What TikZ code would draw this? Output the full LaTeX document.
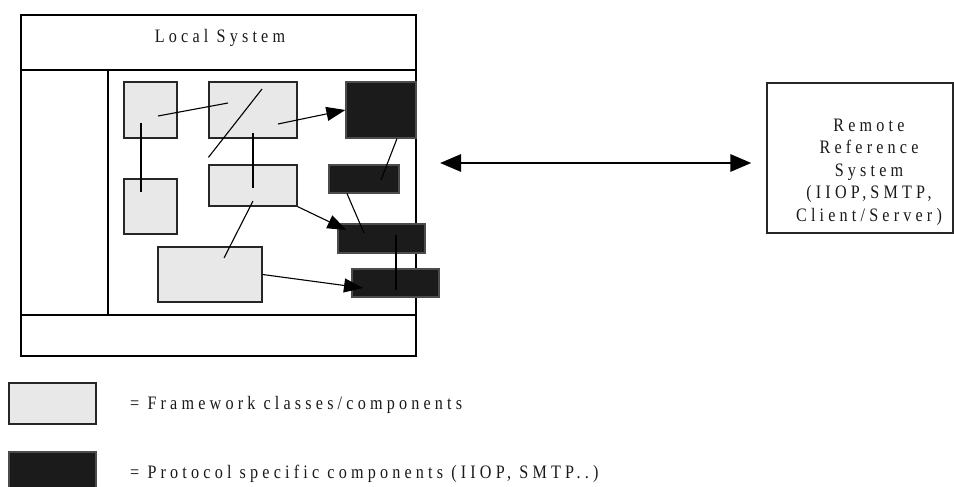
\documentclass[tikz,border=0pt]{standalone}
\usepackage{fontspec}
\setmainfont{Liberation Serif}[FakeStretch=0.85,LetterSpace=22]
\usetikzlibrary{calc,arrows.meta}
\newcommand{\Unit}{1pt}
\definecolor{LightBox}{HTML}{E8E8E8}
\definecolor{DarkBox}{HTML}{1B1B1B}
\tikzset{Framework/.style={
    inner sep=0pt,
    draw=black!85,
    fill=LightBox,
    line width=1.2pt,
    },
  Protocol/.style={
    inner sep=0pt,
    draw=black!70,
    fill=DarkBox,
    line width=1.2pt,
    },
  Frame/.style={draw=black, line width=1.4pt},
  Link/.style={line width=1.1pt},
  Arrow/.style={Link, -{Triangle[length=19pt,width=14pt]}},
  Both/.style={line width=2.8pt,
    {Triangle[length=21pt,width=17pt]}-{Triangle[length=21pt,width=17pt]}},
  Label/.style={font=\fontsize{19}{22.5}\selectfont, align=center, inner sep=0pt, text=black!90},
}

\begin{document}
\begin{tikzpicture}[x=\Unit, y=-\Unit]
    \useasboundingbox (0,0) rectangle (954,487);
    \draw[Frame] (21,15) rectangle (416,356);
    \draw[Frame] (21,70) -- (416,70);
    \draw[Frame] (21,315) -- (416,315);
    \draw[Frame] (108,70) -- (108,315);
    \node [Label] (title) at (220,38) {Local System};
    \node [Framework, minimum width=53pt, minimum height=56pt] (fwA) at (150.5,110) {};
    \node [Framework, minimum width=88pt, minimum height=56pt] (fwB) at (253,110) {};
    \node [Framework, minimum width=53pt, minimum height=55pt] (fwC) at (150.5,206.5) {};
    \node [Framework, minimum width=88pt, minimum height=41pt] (fwD) at (253,185.5) {};
    \node [Framework, minimum width=104pt, minimum height=55pt] (fwE) at (210,274.5) {};
    \node [Protocol, minimum width=70pt, minimum height=56pt] (prF) at (381,110) {};
    \node [Protocol, minimum width=70pt, minimum height=28pt] (prG) at (364,179) {};
    \node [Protocol, minimum width=87pt, minimum height=29pt] (prH) at (381.5,238.5) {};
    \node [Protocol, minimum width=87pt, minimum height=28pt] (prI) at (395.5,283) {};
    \draw[Link] ($(fwA.center)+(7.5,6)$) -- ($(fwB.center)+(-25,-7)$);
    \draw[Link] ($(fwA.center)+(-9.5,13)$) -- ($(fwC.center)+(-9.5,-14.5)$);
    \draw[Link] ($(fwB.center)+(9,-21)$) -- ($(fwD.north west)+(0,-7)$);
    \draw[Arrow] ($(fwB.center)+(25,14)$) -- (prF.west);
    \draw[Link] ($(fwB.center)+(0,23)$) -- ($(fwD.center)+(0,2.5)$);
    \draw[Link] ($(fwD.center)+(0,15.5)$) -- ($(fwE.center)+(14,-16.5)$);
    \draw[Arrow] (fwD.south east) -- ($(prH.west)+(9,-8.5)$);
    \draw[Link] ($(prF.south)+(16,0)$) -- ($(prG.center)+(17,1)$);
    \draw[Link] ($(prG.south)+(-17,0)$) -- ($(prH.center)+(-17.5,-5.5)$);
    \draw[Link] ($(prH.center)+(14.5,-3.5)$) -- ($(prI.center)+(0.5,7)$);
    \draw[Arrow] (fwE.east) -- ($(prI.center)+(-32.5,5)$);
    \node [draw=black!85, line width=1.2pt, minimum width=186pt, minimum height=150pt] (remote) at (860,158) {};
    \node [Label] (remoteText) at ($(remote.center)+(9,14)$)
        {Remote\\Reference\\System\\(IIOP,SMTP,\\Client/Server)};
    \coordinate (lnk) at (440,163);
    \draw[Both] (lnk) -- ($(remote.west)+(-15,5)$);
    \node [Framework, minimum width=87pt, minimum height=41pt] (keyFw) at (52.5,403.5) {};
    \node [Protocol, minimum width=87pt, minimum height=40pt] (keyPr) at (52.5,472) {};
    \node [Label, anchor=west] (keyFwText) at (130,405) {= Framework classes/components};
    \node [Label, anchor=west] (keyPrText) at (130,474) {= Protocol specific components (IIOP, SMTP..)};
\end{tikzpicture}
\end{document}
